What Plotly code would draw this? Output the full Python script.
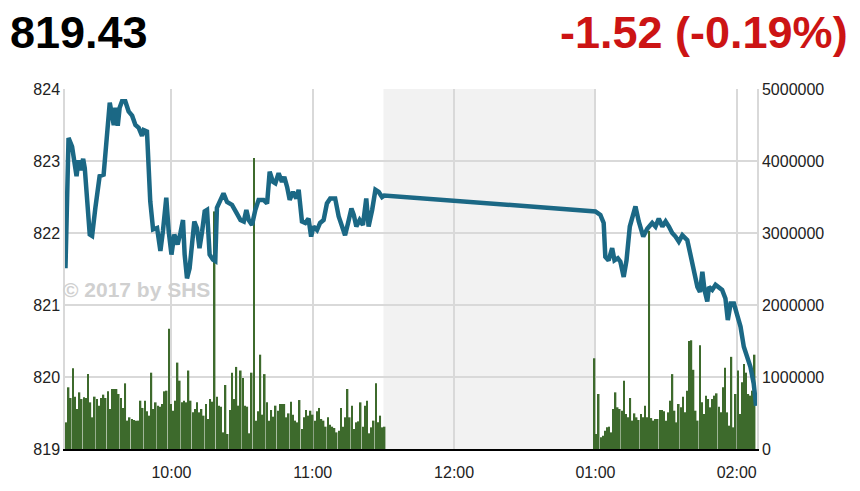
import numpy as np
import plotly.graph_objects as go

# ---- header values ----
last_price = "819.43"
change_text = "-1.52 (-0.19%)"
watermark = "© 2017 by SHS"

# ---- axis ticks ----
hour_ticks = [60, 120, 180, 240, 300]          # minutes after 09:00
hour_labels = ["10:00", "11:00", "12:00", "01:00", "02:00"]
price_ticks = [819, 820, 821, 822, 823, 824]
volume_ticks = [0, 1000000, 2000000, 3000000, 4000000, 5000000]

# lunch break (minutes after 09:00)
lunch_start = 150
lunch_end = 240

# ---- price line (minutes after 09:00, index level) ----
price_time = [
    15.0, 16.3, 17.8, 19.7, 20.5, 21.4, 22.5, 23.2, 25.3, 26.3, 27.7, 29.5, 31.2,
    32.7, 33.8, 34.8, 35.5, 36.2, 37.2, 38.0, 39.0, 40.4, 41.8, 43.3, 44.7, 46.1,
    47.5, 48.2, 49.6, 51.0, 52.2, 53.9, 55.3, 56.4, 57.8, 58.8, 60.0, 61.2, 62.6,
    63.8, 64.9, 65.6, 66.6, 67.7, 68.7, 69.7, 70.8, 71.9, 73.0, 74.1, 75.1, 76.2,
    77.6, 78.6, 79.3, 80.7, 82.1, 83.6, 85.7, 87.8, 89.3, 90.7, 91.8, 92.8, 94.2,
    95.6, 97.0, 99.1, 100.6, 101.7, 103.1, 104.1, 105.5, 106.9, 107.9, 109.1,
    110.2, 111.6, 113.0, 114.0, 115.4, 116.8, 118.2, 119.3, 120.3, 121.8, 123.1,
    124.6, 126.0, 127.4, 129.5, 131.0, 132.4, 133.7, 135.0, 136.4, 137.4, 138.5,
    139.9, 141.3, 142.7, 143.7, 145.2, 146.6, 148.0, 149.4, 150.3,
    240.0, 242.1, 243.5, 244.2, 245.6, 247.1, 248.1, 249.5, 250.6, 252.0, 253.2,
    254.6, 256.0, 257.0, 258.4, 260.3, 262.0, 264.1, 265.5, 266.9, 268.4, 269.8,
    271.2, 272.6, 274.0, 275.4, 276.9, 279.0, 280.4, 281.8, 283.3, 284.4, 285.4,
    286.3, 287.5, 288.2, 289.6, 291.0, 292.4, 293.8, 295.2, 296.2, 297.4, 298.8,
    300.2, 301.6, 303.0, 304.4, 305.8, 307.2, 308.2,
]
price_value = [
    821.51, 823.32, 823.20, 822.79, 823.01, 822.87, 823.03, 822.90, 821.98, 821.96,
    822.35, 822.79, 822.81, 823.50, 823.81, 823.63, 823.50, 823.74, 823.49, 823.74,
    823.83, 823.83, 823.69, 823.63, 823.50, 823.46, 823.35, 823.43, 823.41, 822.44,
    822.05, 822.07, 821.75, 822.03, 822.49, 822.03, 821.70, 821.98, 821.84, 822.00,
    822.18, 821.70, 821.37, 821.51, 821.84, 822.16, 822.07, 821.79, 822.02, 822.30,
    822.32, 821.70, 821.63, 821.61, 822.35, 822.45, 822.55, 822.43, 822.39, 822.27,
    822.18, 822.16, 822.32, 822.18, 822.11, 822.32, 822.46, 822.46, 822.41, 822.85,
    822.71, 822.69, 822.83, 822.71, 822.78, 822.64, 822.46, 822.57, 822.48, 822.60,
    822.16, 822.14, 822.20, 821.95, 822.09, 822.04, 822.14, 822.18, 822.41, 822.48,
    822.48, 822.23, 822.11, 821.97, 822.14, 822.34, 822.25, 822.09, 822.18, 822.11,
    822.48, 822.09, 822.32, 822.60, 822.57, 822.50, 822.52,
    822.30, 822.25, 822.14, 821.67, 821.62, 821.79, 821.62, 821.65, 821.60, 821.39,
    821.62, 822.09, 822.27, 822.37, 822.16, 821.95, 822.06, 822.14, 822.09, 822.20,
    822.09, 822.16, 822.09, 822.00, 821.95, 821.88, 821.97, 821.90, 821.69, 821.44,
    821.25, 821.18, 821.46, 821.21, 821.05, 821.25, 821.21, 821.28, 821.25, 821.21,
    821.09, 820.79, 821.02, 821.02, 820.86, 820.70, 820.42, 820.28, 820.14, 819.91,
    819.60,
]

# ---- volume bars (thousand shares) ----
vol_morning_first, vol_morning_last = 15.4, 150.5
vol_morning = [
    370, 857, 708, 1120, 727, 556, 787, 694, 718, 708,
    1040, 648, 440, 727, 694, 602, 708, 755, 708, 801,
    556, 833, 833, 833, 764, 708, 570, 912, 394, 440,
    417, 403, 394, 394, 671, 570, 671, 523, 463, 1060,
    556, 648, 602, 588, 625, 801, 810, 1670, 625, 532,
    671, 1200, 949, 648, 671, 648, 1090, 671, 509, 556,
    648, 509, 556, 463, 625, 417, 694, 657, 3300, 727,
    602, 588, 231, 889, 208, 542, 1060, 694, 1140, 602,
    1090, 986, 602, 588, 218, 1060, 4040, 394, 523, 1310,
    477, 1040, 648, 394, 542, 449, 602, 532, 625, 625,
    625, 440, 495, 657, 477, 394, 370, 680, 278, 440,
    542, 463, 532, 477, 394, 523, 570, 417, 394, 310,
    440, 338, 310, 292, 231, 255, 570, 310, 440, 833,
    440, 602, 278, 370, 384, 648, 310, 602, 671, 218,
    301, 394, 912, 370, 463, 301, 310,
]
vol_afternoon_first, vol_afternoon_last = 239.6, 307.6
vol_afternoon = [
    1260, 208, 764, 162, 185, 255, 301, 310, 231, 556,
    787, 579, 556, 532, 949, 486, 440, 708, 394, 495,
    440, 403, 486, 440, 602, 440, 3030, 430, 394, 417,
    417, 542, 542, 523, 394, 509, 671, 1040, 532, 370,
    625, 579, 727, 509, 810, 1500, 1510, 1100, 532, 394,
    1440, 648, 486, 741, 694, 579, 694, 741, 773, 588,
    509, 857, 1130, 509, 324, 1280, 301, 764, 1090, 486,
    926, 1180, 1060, 764, 741, 810, 1310,
]

vol_time = list(np.linspace(vol_morning_first, vol_morning_last, len(vol_morning))) + \
    list(np.linspace(vol_afternoon_first, vol_afternoon_last, len(vol_afternoon)))
vol_value = [v * 1000 for v in vol_morning + vol_afternoon]

FONT = "Liberation Sans, Arial, sans-serif"
GRID = "#d9d9d9"

fig = go.Figure()
fig.add_trace(go.Bar(
    x=vol_time, y=vol_value, yaxis="y",
    marker=dict(color="#3d6a2c", line=dict(width=0)),
    hoverinfo="skip", showlegend=False,
))
fig.add_trace(go.Scatter(
    x=price_time, y=price_value, yaxis="y2", mode="lines",
    line=dict(color="#1b6885", width=4.5),
    hoverinfo="skip", showlegend=False,
))

fig.add_shape(type="rect", xref="x", yref="paper", x0=lunch_start, x1=lunch_end,
              y0=0, y1=1, fillcolor="#f2f2f2", line=dict(width=0), layer="below")
fig.add_shape(type="line", xref="paper", yref="paper", x0=-0.09, x1=1.15,
              y0=1.243, y1=1.243, line=dict(color="#bdbdbd", width=1.5))

fig.add_annotation(text=last_price, xref="paper", yref="paper", x=-0.082, y=1.158,
                   xanchor="left", yanchor="middle", showarrow=False,
                   font=dict(family=FONT, size=45, color="#000000", weight="bold"))
fig.add_annotation(text=change_text, xref="paper", yref="paper", x=1.135, y=1.158,
                   xanchor="right", yanchor="middle", showarrow=False,
                   font=dict(family=FONT, size=45, color="#cc1414", weight="bold"))
fig.add_annotation(text=watermark, xref="paper", yref="y2", x=-0.006, y=821.22,
                   xanchor="left", yanchor="middle", showarrow=False,
                   font=dict(family=FONT, size=21, color="#d0d0d0", weight="bold"))

# the page body adds an 8px offset, compensated in the margins
fig.update_layout(
    width=860, height=491,
    margin=dict(l=57, r=111, t=81, b=50),
    paper_bgcolor="white", plot_bgcolor="white",
    bargap=0.25,
    font=dict(family=FONT, size=16, color="#222222"),
    xaxis=dict(
        range=[14.8, 308.6], tickvals=hour_ticks, ticktext=hour_labels,
        showgrid=True, gridcolor=GRID, gridwidth=1.5,
        showline=True, linecolor="#000000", linewidth=2,
        ticks="outside", ticklen=8, tickcolor="rgba(0,0,0,0)",
        zeroline=False, tickfont=dict(size=16),
    ),
    yaxis=dict(
        side="right", range=[0, 5000000], tickvals=volume_ticks, tickformat="d",
        showgrid=True, gridcolor=GRID, gridwidth=1.5,
        showline=True, linecolor=GRID, linewidth=1.5,
        zeroline=False, tickfont=dict(size=16),
    ),
    yaxis2=dict(
        side="left", overlaying="y", range=[819, 824], tickvals=price_ticks,
        showgrid=False, showline=True, linecolor=GRID, linewidth=1.5,
        zeroline=False, tickfont=dict(size=16),
    ),
)

fig.write_html("out.html")
